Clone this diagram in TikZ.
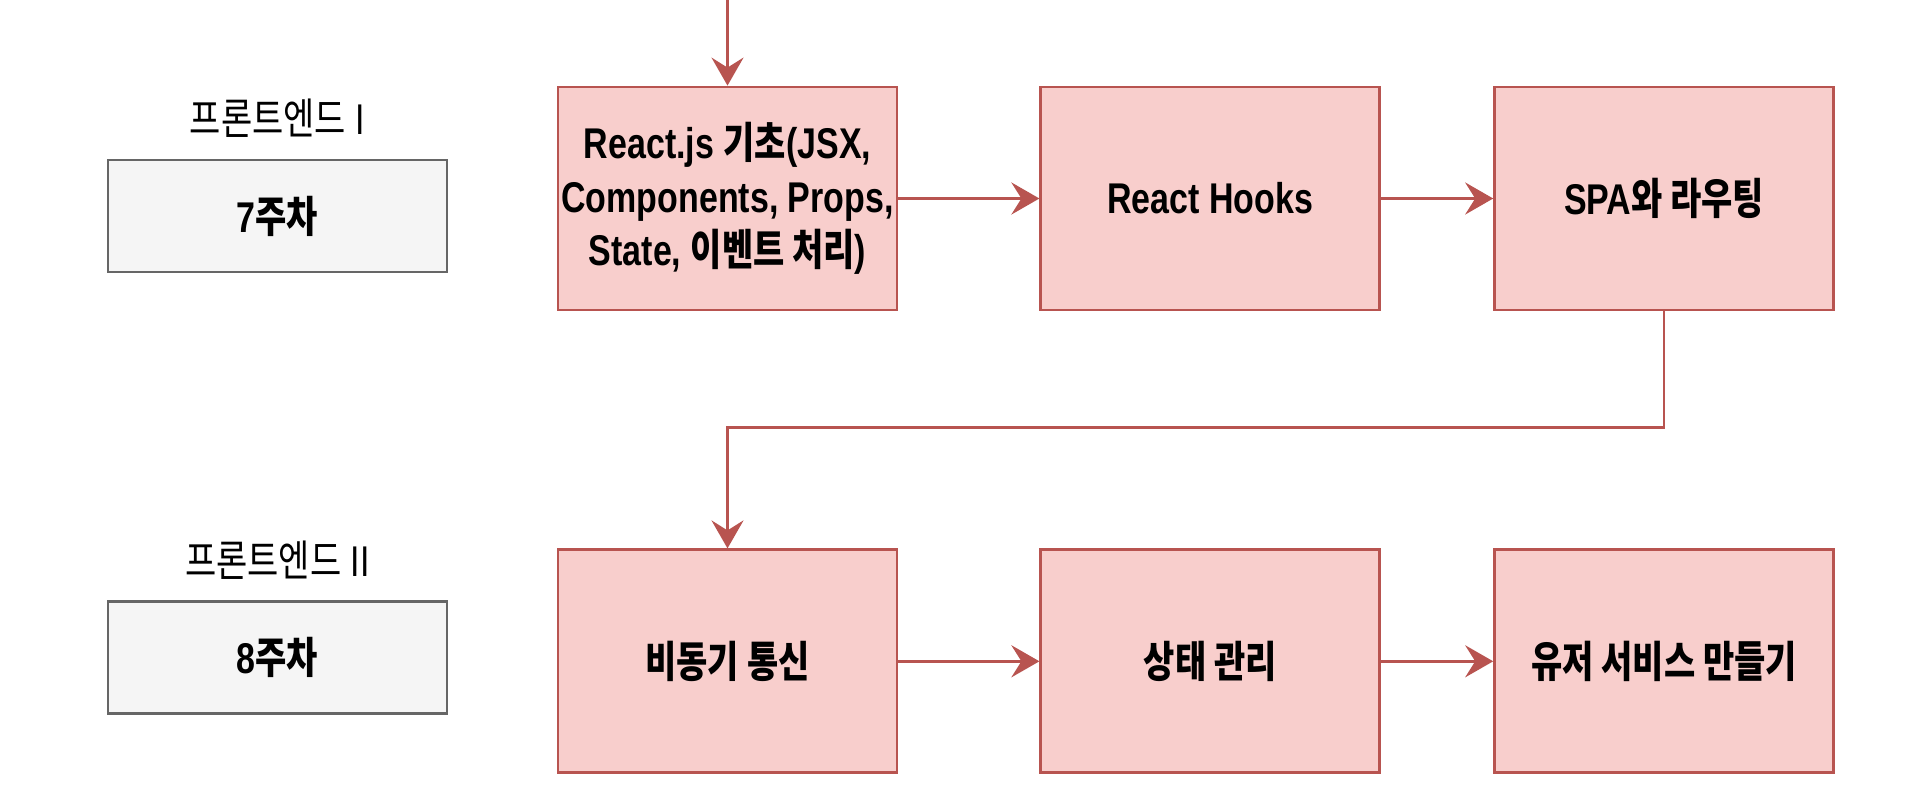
\documentclass[tikz,border=0pt]{standalone}
\usepackage{fontspec}
\setmainfont{Liberation Sans}[FakeStretch=0.79]
\newfontfamily\kr{Noto Sans CJK KR}[FakeStretch=0.79]
\usepackage{xcolor}
\usetikzlibrary{positioning, arrows.meta}
\definecolor{redfill}{HTML}{F8CECC}
\definecolor{redline}{HTML}{B85450}
\definecolor{grayfill}{HTML}{F5F5F5}
\definecolor{grayline}{HTML}{666666}

\begin{document}
\begin{tikzpicture}[x=0.5pt, y=-0.5pt, font=\fontsize{21.5}{26.8}\selectfont\bfseries,
  topic/.style={draw=redline, fill=redfill, line width=1.4pt, align=center, inner sep=0pt, minimum width=169.5pt, minimum height=111.5pt},
  week/.style={draw=grayline, fill=grayfill, line width=1.4pt, inner sep=0pt, minimum width=169.5pt, minimum height=56pt},
  part/.style={font=\fontsize{21.5}{26.5}\selectfont\mdseries, inner sep=0pt},
  link/.style={draw=redline, line width=1.6pt, -{Stealth[length=14pt, width=16pt, inset=5pt]}}]
\useasboundingbox (0,0) rectangle (1921,803);
% week 7
\node[topic] (react) at (727.5,198.5) {React.js {\kr 기초}(JSX,\\Components, Props,\\State, {\kr 이벤트 처리})};
\node[topic, right=70.5pt of react] (hooks) {React Hooks};
\node[topic, right=56pt of hooks] (spa) {SPA{\kr 와 라우팅}};
% week 8
\node[topic, below=118.5pt of react] (async) {{\kr 비동기 통신}};
\node[topic, right=70.5pt of async] (state) {{\kr 상태 관리}};
\node[topic, right=56pt of state] (user) {{\kr 유저 서비스 만들기}};
% left column
\node[week] (wk7) at (277.5,216) {7{\kr 주차}};
\node[week] (wk8) at (277.5,657.5) {8{\kr 주차}};
\node[part] (part7) at ([yshift=20pt]wk7.north) {{\kr 프론트엔드} I};
\node[part] (part8) at ([yshift=20pt]wk8.north) {{\kr 프론트엔드} II};
% arrows
\coordinate (start) at (727.5,0);
\draw[link, line width=1.3pt] (start) -- (react);
\draw[link] (react) -- (hooks);
\draw[link] (hooks) -- (spa);
\draw[link, line width=1.3pt] (spa.south) -- ++(0,116) -| (async.north);
\draw[link] (async) -- (state);
\draw[link] (state) -- (user);
\end{tikzpicture}
\end{document}
